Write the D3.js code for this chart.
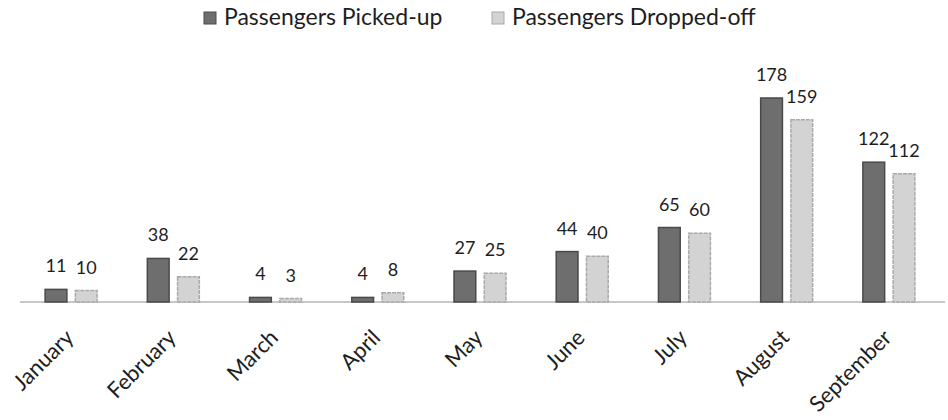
<!DOCTYPE html>
<html>
<head>
<meta charset="utf-8">
<script src="https://cdn.jsdelivr.net/npm/d3@7"></script>
<style>
  body { margin: 0; background: #fff; }
  text { font-family: Lato, 'Open Sans', sans-serif; fill: #1e1e1e; }
</style>
</head>
<body>
<div id="chart"></div>
<script>
const months = ['January', 'February', 'March', 'April', 'May', 'June', 'July', 'August', 'September'];
const pickedUp = [11, 38, 4, 4, 27, 44, 65, 178, 122];
const droppedOff = [10, 22, 3, 8, 25, 40, 60, 159, 112];
const seriesNames = ['Passengers Picked-up', 'Passengers Dropped-off'];

const width = 948;
const height = 420;
const margin = { top: 40, right: 8, bottom: 118, left: 20 };

const svg = d3.select('#chart').append('svg').attr('width', width).attr('height', height);

const series = [
  { name: seriesNames[0], values: pickedUp, fill: '#6e6e6e', stroke: '#4a4a4a' },
  { name: seriesNames[1], values: droppedOff, fill: '#d3d3d3', stroke: '#a9a9a9' },
];

const x = d3.scaleBand().domain(months).range([margin.left, width - margin.right]).paddingInner(0).paddingOuter(0);
const xInner = d3.scaleBand().domain([0, 1]).range([x.bandwidth() / 2 - 26, x.bandwidth() / 2 + 26]).paddingInner(0.28);
const y = d3.scaleLinear().domain([0, 178]).range([height - margin.bottom, 98]);

// baseline
svg
  .append('line')
  .attr('x1', margin.left)
  .attr('x2', width - 3)
  .attr('y1', y(0))
  .attr('y2', y(0))
  .attr('stroke', '#b5b5b5')
  .attr('stroke-width', 1.5);

const groups = svg
  .selectAll('.month')
  .data(months)
  .enter()
  .append('g')
  .attr('class', 'month')
  .attr('transform', (d) => `translate(${x(d)},0)`);

groups.each(function (m, i) {
  const g = d3.select(this);
  series.forEach((s, j) => {
    const v = s.values[i];
    g.append('rect')
      .attr('x', xInner(j))
      .attr('width', xInner.bandwidth())
      .attr('y', y(v))
      .attr('height', y(0) - y(v))
      .attr('fill', s.fill)
      .attr('stroke', s.stroke)
      .attr('stroke-width', 1.5)
      .attr('stroke-dasharray', j === 1 ? '4 1' : null);
    g.append('text')
      .attr('x', xInner(j) + xInner.bandwidth() / 2)
      .attr('y', y(v) - 17)
      .attr('text-anchor', 'middle')
      .style('font-size', '18px')
      .text(v);
  });
});

// rotated month labels
const xAxis = svg.append('g').attr('transform', `translate(0,${y(0)})`).call(d3.axisBottom(x).tickSize(0).tickPadding(0));
xAxis.select('.domain').remove();
xAxis
  .selectAll('text')
  .attr('text-anchor', 'end')
  .attr('dy', 0)
  .attr('transform', 'translate(4,37) rotate(-45)')
  .style('font-size', '22px')
  .style('fill', '#1e1e1e')
  .style('font-family', "Lato, 'Open Sans', sans-serif");

// legend
const legendX = [204, 492];
const legend = svg
  .selectAll('.legend')
  .data(series)
  .enter()
  .append('g')
  .attr('class', 'legend')
  .attr('transform', (d, i) => `translate(${legendX[i]},11)`);
legend
  .append('rect')
  .attr('width', 12)
  .attr('height', 12)
  .attr('y', 1)
  .attr('fill', (d) => d.fill)
  .attr('stroke', (d) => d.stroke);
legend
  .append('text')
  .attr('x', 20)
  .attr('y', 14)
  .style('font-size', '23px')
  .text((d) => d.name);
</script>
</body>
</html>
